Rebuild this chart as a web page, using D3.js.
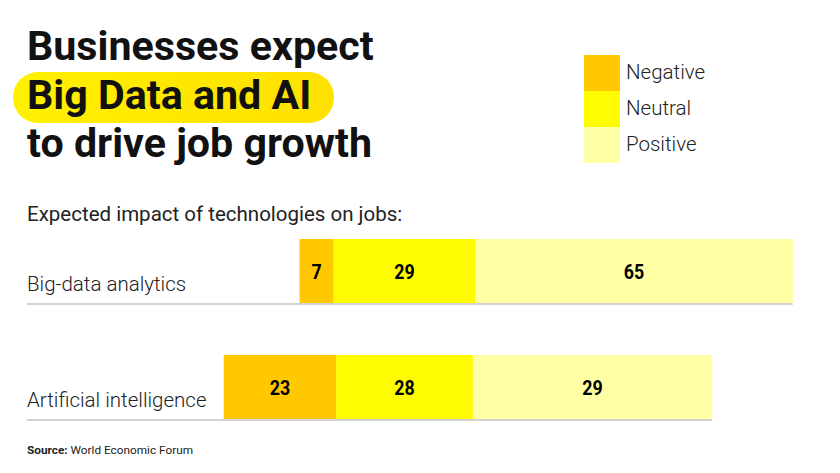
<!DOCTYPE html>
<html>
<head>
<meta charset="utf-8">
<script src="https://cdn.jsdelivr.net/npm/d3@7"></script>
<style>
  html, body { margin: 0; padding: 0; background: #fff; }
  svg { display: block; font-family: Roboto, "Noto Sans", sans-serif; }
</style>
</head>
<body>
<svg id="chart" width="840" height="473"></svg>
<script>
// ---- data ----
const categories = ["Big-data analytics", "Artificial intelligence"];
const seriesNames = ["Negative", "Neutral", "Positive"];
const negativeValues = [7, 23];
const neutralValues = [29, 28];
// bar lengths as drawn in the reference
const positiveValues = [65, 49];
// numbers printed on the bars in the reference
const printedLabels = [["7", "29", "65"], ["23", "28", "29"]];
const colors = ["#ffc800", "#fffb00", "#ffffa6"];
const titleLines = ["Businesses expect", "Big Data and AI", "to drive job growth"];
const subtitle = "Expected impact of technologies on jobs:";

const svg = d3.select("#chart");

// ---- title ----
const defs = svg.append("defs");
const grad = defs.append("linearGradient").attr("id", "hl").attr("x1", "0%").attr("x2", "100%");
grad.append("stop").attr("offset", "0%").attr("stop-color", "#fff000");
grad.append("stop").attr("offset", "100%").attr("stop-color", "#ffe100");

svg.append("rect")
  .attr("x", 13).attr("y", 72).attr("width", 321).attr("height", 51)
  .attr("rx", 25).attr("ry", 25)
  .attr("fill", "url(#hl)");

svg.selectAll("text.title").data(titleLines).join("text")
  .attr("class", "title")
  .attr("x", 27)
  .attr("y", (d, i) => 60 + i * 48.5)
  .attr("font-size", 41.2)
  .attr("font-weight", 700)
  .attr("fill", "#111")
  .text(d => d);

// ---- legend ----
const legend = svg.append("g").attr("transform", "translate(584,55)");
legend.selectAll("rect").data(seriesNames).join("rect")
  .attr("x", 0).attr("y", (d, i) => i * 36)
  .attr("width", 36).attr("height", 36)
  .attr("fill", (d, i) => colors[i]);
legend.selectAll("text").data(seriesNames).join("text")
  .attr("x", 42).attr("y", (d, i) => i * 36 + 17)
  .attr("dy", "0.35em")
  .attr("font-size", 20.5)
  .attr("font-weight", 300)
  .attr("fill", "#222")
  .text(d => d);

// ---- subtitle ----
svg.append("text")
  .attr("x", 27).attr("y", 221)
  .attr("font-size", 20.5)
  .attr("font-weight", 400)
  .attr("fill", "#222")
  .text(subtitle);

// ---- bars ----
const rows = categories.map((c, i) => ({
  category: c,
  values: [negativeValues[i], neutralValues[i], positiveValues[i]],
  labels: printedLabels[i]
}));

const x = d3.scaleLinear().domain([-40, 80]).range([209.1, 795.3]);
const y = d3.scaleBand().domain(categories).range([239, 419]).paddingInner(52 / 116).paddingOuter(0);

const rowG = svg.selectAll("g.row").data(rows).join("g")
  .attr("class", "row")
  .attr("transform", d => `translate(0,${y(d.category)})`);

rowG.each(function(d) {
  const g = d3.select(this);
  let start = -(d.values[0] + d.values[1] / 2);
  const segs = d.values.map((v, k) => {
    const s = { x0: start, x1: start + v, k, label: d.labels[k] };
    start += v;
    return s;
  });
  const bw = y.bandwidth();
  // baseline
  g.append("line")
    .attr("x1", 27).attr("x2", x(segs[2].x1))
    .attr("y1", bw + 1).attr("y2", bw + 1)
    .attr("stroke", "#d2d2d2").attr("stroke-width", 2);
  g.selectAll("rect").data(segs).join("rect")
    .attr("x", s => x(s.x0))
    .attr("width", s => x(s.x1) - x(s.x0))
    .attr("y", 0).attr("height", bw)
    .attr("fill", s => colors[s.k]);
  g.selectAll("text.val").data(segs).join("text")
    .attr("class", "val")
    .attr("transform", s => `translate(${(x(s.x0) + x(s.x1)) / 2},${bw / 2 + 1}) scale(0.85,1)`)
    .attr("text-anchor", "middle")
    .attr("dy", "0.35em")
    .attr("font-size", 21)
    .attr("font-weight", 700)
    .attr("fill", "#000")
    .text(s => s.label);
  g.append("text")
    .attr("x", 27).attr("y", bw - 12)
    .attr("font-size", 20.5)
    .attr("font-weight", 300)
    .attr("fill", "#222")
    .text(d.category);
});

// ---- source ----
const src = svg.append("text")
  .attr("x", 27).attr("y", 454)
  .attr("font-size", 11.8)
  .attr("fill", "#222");
src.append("tspan").attr("font-weight", 700).text("Source:");
src.append("tspan").attr("font-weight", 400).text(" World Economic Forum");
</script>
</body>
</html>
